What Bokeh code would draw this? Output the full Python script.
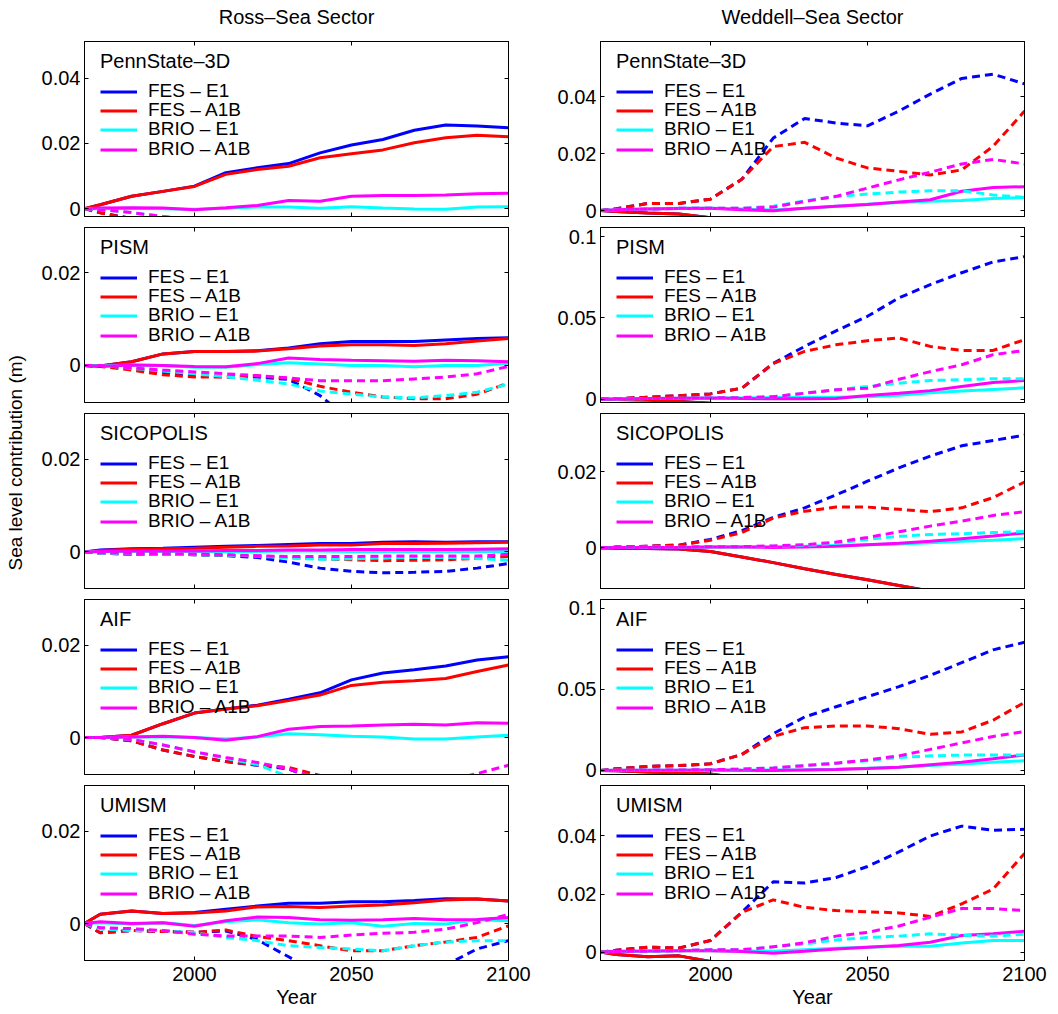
import math
from bokeh.plotting import figure
from bokeh.models import (LinearAxis, FixedTicker, Legend, LegendItem, Range1d,
                          Label, PrintfTickFormatter)
from bokeh.layouts import column, row
from bokeh.embed import file_html
from bokeh.resources import INLINE

# ---------------------------------------------------------------- data
years = [1965, 1970, 1980, 1990, 2000, 2010, 2020, 2030, 2040, 2050, 2060, 2070, 2080, 2090, 2100]
sectors = ["Ross–Sea Sector", "Weddell–Sea Sector"]
models = ["PennState–3D", "PISM", "SICOPOLIS", "AIF", "UMISM"]
series_labels = ["FES – E1", "FES – A1B", "BRIO – E1", "BRIO – A1B"]
x_ticks = [2000, 2050, 2100]
y_label = "Sea level contribution (m)"
x_label = "Year"

# Ross-Sea sector, PennState-3D (solid, then dashed)
ross_pennstate_fes_e1 = [0, 0.0012, 0.0038, 0.0053, 0.0069, 0.0110, 0.0125, 0.0138, 0.0171, 0.0195, 0.0212, 0.0240, 0.0256, 0.0253, 0.0248]
ross_pennstate_fes_a1b = [0, 0.0012, 0.0038, 0.0053, 0.0068, 0.0105, 0.0120, 0.0130, 0.0156, 0.0168, 0.0180, 0.0202, 0.0217, 0.0225, 0.0220]
ross_pennstate_brio_e1 = [0, 0.0000, 0.0001, 0.0000, -0.0002, 0.0001, 0.0005, 0.0005, 0.0001, 0.0006, 0.0002, -0.0001, -0.0002, 0.0005, 0.0006]
ross_pennstate_brio_a1b = [0, 0.0002, 0.0003, 0.0002, -0.0003, 0.0003, 0.0010, 0.0025, 0.0023, 0.0038, 0.0040, 0.0040, 0.0042, 0.0046, 0.0047]
ross_pennstate_fes_e1_dash = [0, -0.0012, -0.0030, -0.0050, -0.0070, -0.0090, -0.0110, -0.0130, -0.0150, -0.0170, -0.0185, -0.0200, -0.0210, -0.0215, -0.0220]
ross_pennstate_fes_a1b_dash = [0, -0.0013, -0.0031, -0.0052, -0.0072, -0.0092, -0.0110, -0.0128, -0.0145, -0.0160, -0.0170, -0.0178, -0.0180, -0.0175, -0.0165]
ross_pennstate_brio_e1_dash = [0, -0.0003, -0.0012, -0.0024, -0.0036, -0.0047, -0.0058, -0.0068, -0.0078, -0.0086, -0.0092, -0.0097, -0.0100, -0.0101, -0.0100]
ross_pennstate_brio_a1b_dash = [0, -0.0003, -0.0012, -0.0024, -0.0035, -0.0045, -0.0054, -0.0061, -0.0067, -0.0072, -0.0076, -0.0079, -0.0080, -0.0080, -0.0079]

# Ross-Sea sector, PISM
ross_pism_fes_e1 = [0, -0.0001, 0.0008, 0.0025, 0.0030, 0.0030, 0.0032, 0.0038, 0.0047, 0.0052, 0.0052, 0.0052, 0.0055, 0.0058, 0.0060]
ross_pism_fes_a1b = [0, -0.0001, 0.0008, 0.0025, 0.0030, 0.0030, 0.0031, 0.0036, 0.0042, 0.0045, 0.0045, 0.0043, 0.0047, 0.0053, 0.0058]
ross_pism_brio_e1 = [0, -0.0001, 0.0001, 0.0000, -0.0004, -0.0004, 0.0002, 0.0006, 0.0003, 0.0000, 0.0000, -0.0003, 0.0000, 0.0000, 0.0005]
ross_pism_brio_a1b = [0, -0.0002, 0.0001, 0.0000, -0.0002, -0.0003, 0.0004, 0.0016, 0.0013, 0.0011, 0.0010, 0.0009, 0.0011, 0.0010, 0.0008]
ross_pism_fes_e1_dash = [0, -0.0001, -0.0006, -0.0015, -0.0022, -0.0025, -0.0025, -0.0030, -0.0065, -0.0120, -0.0150, -0.0180, -0.0200, -0.0210, -0.0220]
ross_pism_fes_a1b_dash = [0, -0.0002, -0.0010, -0.0020, -0.0025, -0.0025, -0.0022, -0.0028, -0.0045, -0.0058, -0.0068, -0.0072, -0.0072, -0.0062, -0.0038]
ross_pism_brio_e1_dash = [0, 0.0000, -0.0006, -0.0012, -0.0018, -0.0024, -0.0032, -0.0040, -0.0055, -0.0062, -0.0068, -0.0070, -0.0065, -0.0058, -0.0040]
ross_pism_brio_a1b_dash = [0, 0.0000, -0.0005, -0.0010, -0.0014, -0.0018, -0.0022, -0.0027, -0.0033, -0.0033, -0.0033, -0.0029, -0.0025, -0.0018, -0.0002]

# Ross-Sea sector, SICOPOLIS
ross_sicopolis_fes_e1 = [0, 0.0004, 0.0007, 0.0008, 0.0010, 0.0012, 0.0014, 0.0016, 0.0018, 0.0018, 0.0021, 0.0022, 0.0021, 0.0022, 0.0022]
ross_sicopolis_fes_a1b = [0, 0.0003, 0.0006, 0.0007, 0.0008, 0.0010, 0.0012, 0.0013, 0.0015, 0.0015, 0.0018, 0.0018, 0.0019, 0.0020, 0.0021]
ross_sicopolis_brio_e1 = [0, 0.0001, 0.0001, 0.0001, 0.0001, 0.0001, 0.0001, 0.0002, 0.0002, 0.0001, 0.0001, 0.0001, 0.0001, 0.0001, 0.0001]
ross_sicopolis_brio_a1b = [0, 0.0001, 0.0002, 0.0002, 0.0002, 0.0003, 0.0003, 0.0004, 0.0004, 0.0005, 0.0005, 0.0005, 0.0005, 0.0006, 0.0007]
ross_sicopolis_fes_e1_dash = [0, -0.0003, -0.0005, -0.0005, -0.0006, -0.0008, -0.0012, -0.0022, -0.0035, -0.0042, -0.0045, -0.0044, -0.0042, -0.0035, -0.0025]
ross_sicopolis_fes_a1b_dash = [0, -0.0003, -0.0005, -0.0005, -0.0006, -0.0007, -0.0009, -0.0012, -0.0015, -0.0017, -0.0019, -0.0018, -0.0017, -0.0014, -0.0010]
ross_sicopolis_brio_e1_dash = [0, -0.0003, -0.0004, -0.0005, -0.0006, -0.0007, -0.0009, -0.0013, -0.0016, -0.0015, -0.0013, -0.0012, -0.0012, -0.0014, -0.0018]
ross_sicopolis_brio_a1b_dash = [0, -0.0002, -0.0003, -0.0004, -0.0005, -0.0006, -0.0008, -0.0010, -0.0010, -0.0010, -0.0009, -0.0009, -0.0009, -0.0009, -0.0005]

# Ross-Sea sector, AIF
ross_aif_fes_e1 = [0, 0.0000, 0.0005, 0.0030, 0.0053, 0.0062, 0.0070, 0.0083, 0.0097, 0.0125, 0.0140, 0.0147, 0.0155, 0.0168, 0.0175]
ross_aif_fes_a1b = [0, 0.0000, 0.0005, 0.0030, 0.0053, 0.0062, 0.0069, 0.0080, 0.0092, 0.0113, 0.0120, 0.0123, 0.0128, 0.0143, 0.0157]
ross_aif_brio_e1 = [0, 0.0000, 0.0001, 0.0002, 0.0000, -0.0003, 0.0001, 0.0008, 0.0006, 0.0003, 0.0001, -0.0003, -0.0003, 0.0001, 0.0005]
ross_aif_brio_a1b = [0, 0.0000, 0.0001, 0.0003, 0.0000, -0.0006, 0.0002, 0.0018, 0.0024, 0.0025, 0.0027, 0.0029, 0.0027, 0.0032, 0.0031]
ross_aif_fes_e1_dash = [0, 0.0000, -0.0007, -0.0027, -0.0041, -0.0052, -0.0060, -0.0068, -0.0095, -0.0120, -0.0140, -0.0150, -0.0150, -0.0140, -0.0130]
ross_aif_fes_a1b_dash = [0, 0.0000, -0.0007, -0.0027, -0.0041, -0.0052, -0.0059, -0.0065, -0.0082, -0.0105, -0.0120, -0.0130, -0.0130, -0.0125, -0.0120]
ross_aif_brio_e1_dash = [0, 0.0000, -0.0004, -0.0016, -0.0031, -0.0045, -0.0058, -0.0085, -0.0110, -0.0130, -0.0140, -0.0140, -0.0130, -0.0120, -0.0110]
ross_aif_brio_a1b_dash = [0, 0.0000, -0.0004, -0.0016, -0.0031, -0.0043, -0.0054, -0.0068, -0.0090, -0.0110, -0.0120, -0.0115, -0.0095, -0.0078, -0.0060]

# Ross-Sea sector, UMISM
ross_umism_fes_e1 = [0, 0.0020, 0.0027, 0.0022, 0.0024, 0.0031, 0.0038, 0.0044, 0.0044, 0.0047, 0.0047, 0.0050, 0.0054, 0.0053, 0.0049]
ross_umism_fes_a1b = [0, 0.0020, 0.0027, 0.0022, 0.0023, 0.0027, 0.0036, 0.0037, 0.0035, 0.0038, 0.0040, 0.0045, 0.0051, 0.0053, 0.0049]
ross_umism_brio_e1 = [0, 0.0002, -0.0001, 0.0002, -0.0004, 0.0004, 0.0008, 0.0002, -0.0001, 0.0002, -0.0006, 0.0000, -0.0001, 0.0008, 0.0006]
ross_umism_brio_a1b = [0, 0.0004, 0.0000, 0.0002, -0.0006, 0.0006, 0.0014, 0.0013, 0.0008, 0.0007, 0.0008, 0.0011, 0.0008, 0.0009, 0.0013]
ross_umism_fes_e1_dash = [0, -0.0020, -0.0015, -0.0017, -0.0019, -0.0016, -0.0035, -0.0072, -0.0110, -0.0130, -0.0130, -0.0120, -0.0090, -0.0055, -0.0037]
ross_umism_fes_a1b_dash = [0, -0.0020, -0.0015, -0.0017, -0.0019, -0.0014, -0.0028, -0.0037, -0.0048, -0.0059, -0.0059, -0.0048, -0.0040, -0.0030, -0.0005]
ross_umism_brio_e1_dash = [0, -0.0012, -0.0015, -0.0015, -0.0020, -0.0030, -0.0037, -0.0048, -0.0052, -0.0055, -0.0059, -0.0048, -0.0040, -0.0037, -0.0037]
ross_umism_brio_a1b_dash = [0, -0.0009, -0.0011, -0.0015, -0.0023, -0.0027, -0.0027, -0.0027, -0.0030, -0.0025, -0.0021, -0.0019, -0.0012, 0.0002, 0.0020]

# Weddell-Sea sector, PennState-3D
weddell_pennstate_fes_e1 = [0, -0.0003, -0.0009, -0.0012, -0.0025, -0.0050, -0.0090, -0.0130, -0.0170, -0.0210, -0.0250, -0.0290, -0.0330, -0.0370, -0.0400]
weddell_pennstate_fes_a1b = [0, -0.0003, -0.0009, -0.0012, -0.0025, -0.0050, -0.0090, -0.0130, -0.0170, -0.0210, -0.0250, -0.0290, -0.0330, -0.0370, -0.0400]
weddell_pennstate_brio_e1 = [0, 0.0003, 0.0005, 0.0008, 0.0008, 0.0005, 0.0002, 0.0008, 0.0015, 0.0022, 0.0028, 0.0033, 0.0035, 0.0042, 0.0046]
weddell_pennstate_brio_a1b = [0, 0.0003, 0.0005, 0.0007, 0.0008, 0.0003, -0.0001, 0.0008, 0.0015, 0.0021, 0.0030, 0.0038, 0.0068, 0.0081, 0.0084]
weddell_pennstate_fes_e1_dash = [0, 0.0006, 0.0025, 0.0025, 0.0040, 0.0110, 0.0255, 0.0324, 0.0308, 0.0298, 0.0350, 0.0410, 0.0465, 0.0480, 0.0446]
weddell_pennstate_fes_a1b_dash = [0, 0.0006, 0.0025, 0.0025, 0.0040, 0.0110, 0.0225, 0.0240, 0.0185, 0.0150, 0.0138, 0.0125, 0.0143, 0.0226, 0.0350]
weddell_pennstate_brio_e1_dash = [0, 0.0003, 0.0005, 0.0008, 0.0008, 0.0008, 0.0015, 0.0034, 0.0049, 0.0058, 0.0065, 0.0070, 0.0070, 0.0055, 0.0046]
weddell_pennstate_brio_a1b_dash = [0, 0.0003, 0.0005, 0.0008, 0.0008, 0.0008, 0.0012, 0.0032, 0.0050, 0.0079, 0.0108, 0.0135, 0.0164, 0.0180, 0.0164]

# Weddell-Sea sector, PISM
weddell_pism_fes_e1 = [0, -0.0002, -0.0005, -0.0014, -0.0025, -0.0060, -0.0100, -0.0150, -0.0200, -0.0250, -0.0300, -0.0350, -0.0400, -0.0450, -0.0500]
weddell_pism_fes_a1b = [0, -0.0002, -0.0005, -0.0014, -0.0025, -0.0060, -0.0100, -0.0150, -0.0200, -0.0250, -0.0300, -0.0350, -0.0400, -0.0450, -0.0500]
weddell_pism_brio_e1 = [0, 0.0002, 0.0004, 0.0006, 0.0008, 0.0008, 0.0010, 0.0012, 0.0012, 0.0016, 0.0025, 0.0040, 0.0050, 0.0060, 0.0070]
weddell_pism_brio_a1b = [0, 0.0002, 0.0004, 0.0006, 0.0008, 0.0005, 0.0003, 0.0003, 0.0005, 0.0023, 0.0037, 0.0053, 0.0078, 0.0103, 0.0115]
weddell_pism_fes_e1_dash = [0, 0.0004, 0.0012, 0.0022, 0.0033, 0.0068, 0.0220, 0.0325, 0.0420, 0.0510, 0.0623, 0.0705, 0.0778, 0.0844, 0.0877]
weddell_pism_fes_a1b_dash = [0, 0.0004, 0.0012, 0.0022, 0.0033, 0.0068, 0.0220, 0.0294, 0.0335, 0.0360, 0.0377, 0.0325, 0.0300, 0.0300, 0.0366]
weddell_pism_brio_e1_dash = [0, 0.0002, 0.0004, 0.0006, 0.0008, 0.0010, 0.0016, 0.0037, 0.0058, 0.0078, 0.0099, 0.0115, 0.0120, 0.0126, 0.0126]
weddell_pism_brio_a1b_dash = [0, 0.0002, 0.0004, 0.0006, 0.0008, 0.0010, 0.0016, 0.0037, 0.0058, 0.0068, 0.0123, 0.0170, 0.0212, 0.0274, 0.0300]

# Weddell-Sea sector, SICOPOLIS
weddell_sicopolis_fes_e1 = [0, -0.0001, -0.0002, -0.0003, -0.0010, -0.0024, -0.0039, -0.0055, -0.0070, -0.0084, -0.0099, -0.0114, -0.0130, -0.0145, -0.0160]
weddell_sicopolis_fes_a1b = [0, -0.0001, -0.0002, -0.0003, -0.0010, -0.0024, -0.0039, -0.0055, -0.0070, -0.0084, -0.0099, -0.0114, -0.0130, -0.0145, -0.0160]
weddell_sicopolis_brio_e1 = [0, 0.0001, 0.0001, 0.0001, 0.0002, 0.0002, 0.0003, 0.0004, 0.0006, 0.0008, 0.0010, 0.0013, 0.0017, 0.0020, 0.0024]
weddell_sicopolis_brio_a1b = [0, 0.0001, 0.0001, 0.0001, 0.0002, 0.0002, 0.0001, 0.0002, 0.0004, 0.0008, 0.0012, 0.0017, 0.0024, 0.0031, 0.0039]
weddell_sicopolis_fes_e1_dash = [0, 0.0002, 0.0004, 0.0007, 0.0022, 0.0045, 0.0080, 0.0105, 0.0139, 0.0175, 0.0210, 0.0241, 0.0268, 0.0282, 0.0296]
weddell_sicopolis_fes_a1b_dash = [0, 0.0002, 0.0004, 0.0007, 0.0020, 0.0040, 0.0078, 0.0096, 0.0107, 0.0107, 0.0101, 0.0095, 0.0105, 0.0132, 0.0173]
weddell_sicopolis_brio_e1_dash = [0, 0.0001, 0.0002, 0.0002, 0.0003, 0.0003, 0.0004, 0.0006, 0.0012, 0.0022, 0.0030, 0.0035, 0.0037, 0.0040, 0.0043]
weddell_sicopolis_brio_a1b_dash = [0, 0.0001, 0.0002, 0.0002, 0.0003, 0.0003, 0.0005, 0.0008, 0.0015, 0.0027, 0.0042, 0.0057, 0.0070, 0.0085, 0.0095]

# Weddell-Sea sector, AIF
weddell_aif_fes_e1 = [0, -0.0002, -0.0010, -0.0014, -0.0022, -0.0050, -0.0090, -0.0130, -0.0170, -0.0210, -0.0250, -0.0290, -0.0330, -0.0370, -0.0410]
weddell_aif_fes_a1b = [0, -0.0002, -0.0010, -0.0014, -0.0022, -0.0050, -0.0090, -0.0130, -0.0170, -0.0210, -0.0250, -0.0290, -0.0330, -0.0370, -0.0410]
weddell_aif_brio_e1 = [0, 0.0001, 0.0001, 0.0002, 0.0002, 0.0002, 0.0003, 0.0005, 0.0008, 0.0014, 0.0020, 0.0030, 0.0040, 0.0050, 0.0060]
weddell_aif_brio_a1b = [0, 0.0001, 0.0001, 0.0002, 0.0003, 0.0001, 0.0000, 0.0003, 0.0006, 0.0012, 0.0020, 0.0035, 0.0050, 0.0072, 0.0095]
weddell_aif_fes_e1_dash = [0, 0.0010, 0.0025, 0.0030, 0.0041, 0.0099, 0.0227, 0.0330, 0.0393, 0.0455, 0.0517, 0.0587, 0.0665, 0.0744, 0.0791]
weddell_aif_fes_a1b_dash = [0, 0.0010, 0.0025, 0.0030, 0.0041, 0.0099, 0.0210, 0.0264, 0.0275, 0.0275, 0.0258, 0.0223, 0.0238, 0.0310, 0.0420]
weddell_aif_brio_e1_dash = [0, 0.0001, 0.0002, 0.0003, 0.0005, 0.0008, 0.0015, 0.0030, 0.0045, 0.0060, 0.0080, 0.0090, 0.0095, 0.0095, 0.0095]
weddell_aif_brio_a1b_dash = [0, 0.0001, 0.0002, 0.0003, 0.0005, 0.0008, 0.0015, 0.0030, 0.0045, 0.0065, 0.0090, 0.0130, 0.0170, 0.0210, 0.0240]

# Weddell-Sea sector, UMISM
weddell_umism_fes_e1 = [0, -0.0008, -0.0016, -0.0013, -0.0032, -0.0060, -0.0090, -0.0120, -0.0150, -0.0180, -0.0210, -0.0240, -0.0270, -0.0300, -0.0330]
weddell_umism_fes_a1b = [0, -0.0008, -0.0016, -0.0013, -0.0032, -0.0060, -0.0090, -0.0120, -0.0150, -0.0180, -0.0210, -0.0240, -0.0270, -0.0300, -0.0330]
weddell_umism_brio_e1 = [0, 0.0002, 0.0003, 0.0005, 0.0005, 0.0004, 0.0003, 0.0008, 0.0013, 0.0017, 0.0020, 0.0020, 0.0031, 0.0040, 0.0040]
weddell_umism_brio_a1b = [0, 0.0003, 0.0004, 0.0005, 0.0005, 0.0002, -0.0004, 0.0003, 0.0011, 0.0017, 0.0023, 0.0034, 0.0057, 0.0063, 0.0072]
weddell_umism_fes_e1_dash = [0, 0.0006, 0.0017, 0.0014, 0.0040, 0.0137, 0.0242, 0.0238, 0.0257, 0.0295, 0.0345, 0.0400, 0.0434, 0.0420, 0.0423]
weddell_umism_fes_a1b_dash = [0, 0.0006, 0.0017, 0.0014, 0.0040, 0.0137, 0.0180, 0.0154, 0.0143, 0.0139, 0.0135, 0.0123, 0.0166, 0.0217, 0.0340]
weddell_umism_brio_e1_dash = [0, 0.0002, 0.0003, 0.0005, 0.0008, 0.0008, 0.0018, 0.0028, 0.0042, 0.0050, 0.0055, 0.0063, 0.0058, 0.0055, 0.0062]
weddell_umism_brio_a1b_dash = [0, 0.0002, 0.0003, 0.0005, 0.0008, 0.0008, 0.0018, 0.0032, 0.0055, 0.0068, 0.0090, 0.0120, 0.0150, 0.0150, 0.0143]

# ---------------------------------------------------------------- panel setup
FONT = "Liberation Sans"
COLORS = ["#0000ff", "#ff0000", "#00ffff", "#ff00ff"]

panel_data = {
    (0, 0): [ross_pennstate_fes_e1, ross_pennstate_fes_a1b, ross_pennstate_brio_e1, ross_pennstate_brio_a1b,
             ross_pennstate_fes_e1_dash, ross_pennstate_fes_a1b_dash, ross_pennstate_brio_e1_dash, ross_pennstate_brio_a1b_dash],
    (0, 1): [ross_pism_fes_e1, ross_pism_fes_a1b, ross_pism_brio_e1, ross_pism_brio_a1b,
             ross_pism_fes_e1_dash, ross_pism_fes_a1b_dash, ross_pism_brio_e1_dash, ross_pism_brio_a1b_dash],
    (0, 2): [ross_sicopolis_fes_e1, ross_sicopolis_fes_a1b, ross_sicopolis_brio_e1, ross_sicopolis_brio_a1b,
             ross_sicopolis_fes_e1_dash, ross_sicopolis_fes_a1b_dash, ross_sicopolis_brio_e1_dash, ross_sicopolis_brio_a1b_dash],
    (0, 3): [ross_aif_fes_e1, ross_aif_fes_a1b, ross_aif_brio_e1, ross_aif_brio_a1b,
             ross_aif_fes_e1_dash, ross_aif_fes_a1b_dash, ross_aif_brio_e1_dash, ross_aif_brio_a1b_dash],
    (0, 4): [ross_umism_fes_e1, ross_umism_fes_a1b, ross_umism_brio_e1, ross_umism_brio_a1b,
             ross_umism_fes_e1_dash, ross_umism_fes_a1b_dash, ross_umism_brio_e1_dash, ross_umism_brio_a1b_dash],
    (1, 0): [weddell_pennstate_fes_e1, weddell_pennstate_fes_a1b, weddell_pennstate_brio_e1, weddell_pennstate_brio_a1b,
             weddell_pennstate_fes_e1_dash, weddell_pennstate_fes_a1b_dash, weddell_pennstate_brio_e1_dash, weddell_pennstate_brio_a1b_dash],
    (1, 1): [weddell_pism_fes_e1, weddell_pism_fes_a1b, weddell_pism_brio_e1, weddell_pism_brio_a1b,
             weddell_pism_fes_e1_dash, weddell_pism_fes_a1b_dash, weddell_pism_brio_e1_dash, weddell_pism_brio_a1b_dash],
    (1, 2): [weddell_sicopolis_fes_e1, weddell_sicopolis_fes_a1b, weddell_sicopolis_brio_e1, weddell_sicopolis_brio_a1b,
             weddell_sicopolis_fes_e1_dash, weddell_sicopolis_fes_a1b_dash, weddell_sicopolis_brio_e1_dash, weddell_sicopolis_brio_a1b_dash],
    (1, 3): [weddell_aif_fes_e1, weddell_aif_fes_a1b, weddell_aif_brio_e1, weddell_aif_brio_a1b,
             weddell_aif_fes_e1_dash, weddell_aif_fes_a1b_dash, weddell_aif_brio_e1_dash, weddell_aif_brio_a1b_dash],
    (1, 4): [weddell_umism_fes_e1, weddell_umism_fes_a1b, weddell_umism_brio_e1, weddell_umism_brio_a1b,
             weddell_umism_fes_e1_dash, weddell_umism_fes_a1b_dash, weddell_umism_brio_e1_dash, weddell_umism_brio_a1b_dash],
}

y_ranges = {
    (0, 0): (-0.0024, 0.0512), (0, 1): (-0.0080, 0.0298), (0, 2): (-0.0079, 0.0299),
    (0, 3): (-0.0080, 0.0299), (0, 4): (-0.0080, 0.0299),
    (1, 0): (-0.0021, 0.0595), (1, 1): (-0.0020, 0.1056), (1, 2): (-0.0107, 0.0353),
    (1, 3): (-0.0025, 0.1055), (1, 4): (-0.0029, 0.0574),
}
y_ticks = {
    (0, 0): [0, 0.02, 0.04], (0, 1): [0, 0.02], (0, 2): [0, 0.02], (0, 3): [0, 0.02], (0, 4): [0, 0.02],
    (1, 0): [0, 0.02, 0.04], (1, 1): [0, 0.05, 0.1], (1, 2): [0, 0.02], (1, 3): [0, 0.05, 0.1],
    (1, 4): [0, 0.02, 0.04],
}

FRAME_W, FRAME_H = 424, 175
YLAB_W = 30
HEAD_H = 39
RIGHT_BORDER = 24
LEFT0 = 84 - YLAB_W
COL0_W = LEFT0 + FRAME_W + RIGHT_BORDER
LEFT1 = 600 - YLAB_W - COL0_W
LEFT_BORDERS = [LEFT0, LEFT1]
COL_W = [COL0_W, LEFT1 + FRAME_W + RIGHT_BORDER]
TOP_B, BOT_B, LAST_BOT_B = 2, 9, 54
TOTAL_H = HEAD_H + 4 * (TOP_B + FRAME_H + BOT_B) + TOP_B + FRAME_H + LAST_BOT_B
LEGEND_ROW_BOTTOMS = [114, 95, 76, 56]   # px from frame bottom, one per legend row


def style_axis(ax, ticks, show_labels):
    ax.ticker = FixedTicker(ticks=ticks)
    ax.major_tick_in = 4
    ax.major_tick_out = 0
    ax.minor_tick_line_color = None
    ax.axis_line_color = "black"
    ax.major_tick_line_color = "black"
    ax.major_label_text_font = FONT
    if show_labels:
        ax.major_label_text_font_size = "20px"
        ax.major_label_text_color = "black"
    else:
        ax.major_label_text_font_size = "0px"
        ax.major_label_text_color = None
        ax.major_label_standoff = 0


def make_panel(col, r):
    bottom = LAST_BOT_B if r == 4 else BOT_B
    p = figure(frame_width=FRAME_W, frame_height=FRAME_H,
               x_range=Range1d(1965, 2100), y_range=Range1d(*y_ranges[(col, r)]),
               output_backend="svg", toolbar_location=None,
               min_border_left=LEFT_BORDERS[col], min_border_right=RIGHT_BORDER,
               min_border_top=TOP_B, min_border_bottom=bottom)
    p.xgrid.visible = False
    p.ygrid.visible = False
    p.outline_line_color = "black"
    p.outline_line_alpha = 1
    p.background_fill_color = "white"
    p.border_fill_color = "white"

    bottom_ax = p.below[0]
    left_ax = p.left[0]
    style_axis(bottom_ax, x_ticks, r == 4)
    style_axis(left_ax, y_ticks[(col, r)], True)
    left_ax.formatter = PrintfTickFormatter(format="%g")
    left_ax.major_label_standoff = 4

    top_ax = LinearAxis()
    style_axis(top_ax, x_ticks, False)
    p.add_layout(top_ax, "above")
    right_ax = LinearAxis()
    style_axis(right_ax, y_ticks[(col, r)], False)
    p.add_layout(right_ax, "right")

    if r == 4:
        bottom_ax.axis_label = x_label
        bottom_ax.axis_label_text_font = FONT
        bottom_ax.axis_label_text_font_size = "20px"
        bottom_ax.axis_label_text_font_style = "normal"
        bottom_ax.axis_label_text_color = "black"
        bottom_ax.axis_label_standoff = 2
        bottom_ax.major_label_standoff = 6

    data = panel_data[(col, r)]
    solid = []
    for i in range(4):
        solid.append(p.line(years, data[i], line_color=COLORS[i], line_width=3))
    for i in range(4):
        p.line(years, data[4 + i], line_color=COLORS[i], line_width=3, line_dash="8 5")

    common = dict(padding=0, margin=0, spacing=0, border_line_color=None, background_fill_alpha=0,
                  glyph_width=37, glyph_height=19, label_standoff=11,
                  label_text_font=FONT, label_text_font_size="19px", label_text_color="black")
    for i in range(4):
        extra = {}
        if i == 0:
            extra = dict(title=models[r], title_text_font=FONT, title_text_font_size="20px",
                         title_text_color="black", title_text_font_style="normal", title_standoff=7)
        leg = Legend(items=[LegendItem(label=series_labels[i], renderers=[solid[i]])],
                     location=(16, LEGEND_ROW_BOTTOMS[i]), **common, **extra)
        p.add_layout(leg)
    return p


# header strip with the two column titles
header = figure(width=sum(COL_W), height=HEAD_H, x_range=Range1d(0, sum(COL_W)), y_range=Range1d(0, HEAD_H),
                output_backend="svg", toolbar_location=None, min_border=0,
                x_axis_type=None, y_axis_type=None, outline_line_color=None)
header.grid.visible = False
for c in range(2):
    cx = sum(COL_W[:c]) + LEFT_BORDERS[c] + FRAME_W / 2
    header.add_layout(Label(x=cx, y=HEAD_H - 16, text=sectors[c], text_align="center",
                            text_baseline="middle", text_font=FONT, text_font_size="20px",
                            text_color="black"))

# shared y-axis label, in its own narrow strip spanning all rows
ylab = figure(width=YLAB_W, height=TOTAL_H, x_range=Range1d(0, YLAB_W), y_range=Range1d(0, TOTAL_H),
              output_backend="svg", toolbar_location=None, min_border=0,
              x_axis_type=None, y_axis_type=None, outline_line_color=None)
ylab.grid.visible = False
ylab.add_layout(Label(x=15, y=TOTAL_H - 570, text=y_label, angle=math.pi / 2,
                      text_align="left", text_baseline="middle", text_font=FONT,
                      text_font_size="19px", text_color="black"))

rows = [header]
for r in range(5):
    rows.append(row(make_panel(0, r), make_panel(1, r)))
layout = row(ylab, column(*rows))

open("out.html", "w").write(file_html(layout, INLINE))
